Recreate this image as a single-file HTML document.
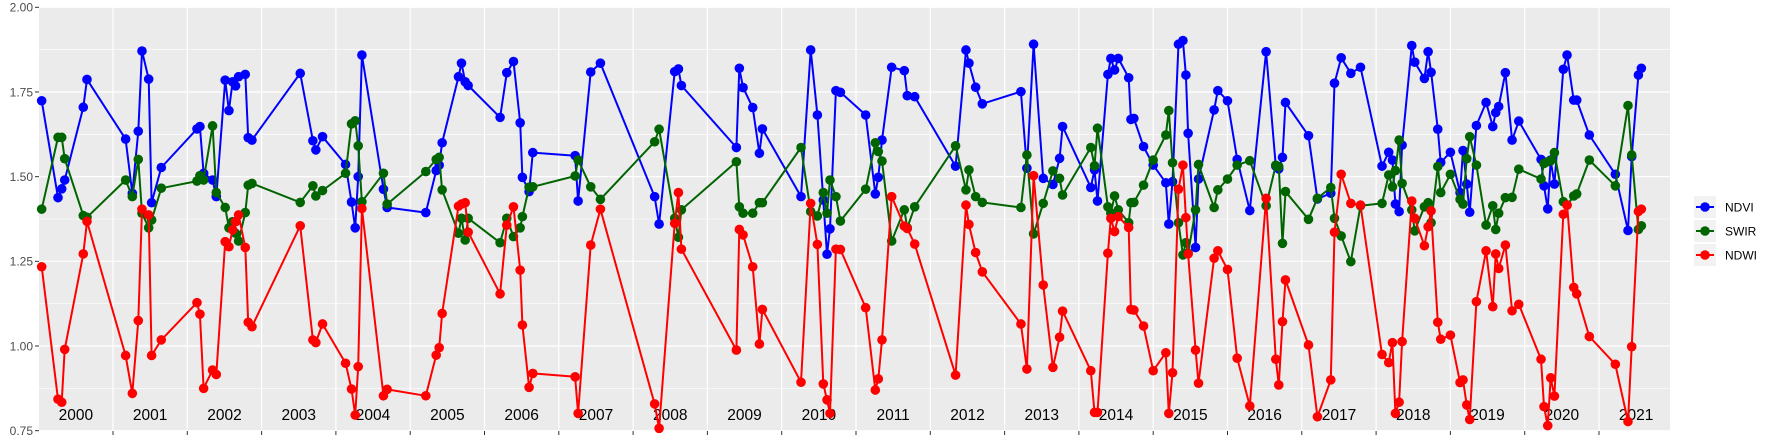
<!DOCTYPE html>
<html><head><meta charset="utf-8">
<style>
html,body{margin:0;padding:0;background:#fff;}
svg{display:block;font-family:"Liberation Sans",sans-serif;}
</style></head>
<body>
<svg id="chart" width="1773" height="442" viewBox="0 0 1773 442" xmlns="http://www.w3.org/2000/svg">
<rect x="0" y="0" width="1773" height="442" fill="#ffffff"/>
<g id="panel"></g>
<g id="yaxis"></g>
<g id="xaxis"></g>
<g id="series"></g>
<g id="legend"></g>
</svg>
<script>
const dates = [2000.04,2000.26,2000.31,2000.35,2000.60,2000.65,2001.17,2001.26,2001.34,2001.39,2001.48,2001.52,2001.65,2002.13,2002.17,2002.22,2002.34,2002.39,2002.51,2002.56,2002.61,2002.65,2002.69,2002.78,2002.82,2002.87,2003.52,2003.69,2003.73,2003.82,2004.13,2004.21,2004.26,2004.30,2004.35,2004.64,2004.69,2005.21,2005.35,2005.39,2005.43,2005.65,2005.69,2005.74,2005.78,2006.21,2006.30,2006.39,2006.48,2006.51,2006.60,2006.65,2007.22,2007.26,2007.43,2007.56,2008.29,2008.35,2008.56,2008.61,2008.65,2009.39,2009.43,2009.48,2009.61,2009.70,2009.74,2010.26,2010.39,2010.48,2010.56,2010.61,2010.65,2010.73,2010.79,2011.13,2011.26,2011.30,2011.35,2011.48,2011.65,2011.69,2011.79,2012.34,2012.48,2012.52,2012.61,2012.70,2013.22,2013.30,2013.39,2013.52,2013.65,2013.74,2013.78,2014.16,2014.21,2014.25,2014.39,2014.43,2014.48,2014.53,2014.67,2014.70,2014.74,2014.87,2015.00,2015.17,2015.21,2015.26,2015.34,2015.40,2015.44,2015.47,2015.57,2015.61,2015.82,2015.87,2016.00,2016.13,2016.30,2016.52,2016.65,2016.69,2016.74,2016.78,2017.09,2017.21,2017.39,2017.44,2017.53,2017.66,2017.79,2018.08,2018.17,2018.22,2018.26,2018.31,2018.35,2018.48,2018.52,2018.65,2018.70,2018.74,2018.83,2018.87,2019.00,2019.13,2019.17,2019.22,2019.26,2019.35,2019.48,2019.57,2019.61,2019.65,2019.74,2019.83,2019.92,2020.22,2020.26,2020.31,2020.35,2020.40,2020.52,2020.57,2020.66,2020.70,2020.87,2021.22,2021.39,2021.44,2021.53,2021.57];
const ndvi = [1.724,1.438,1.464,1.490,1.705,1.787,1.611,1.451,1.634,1.871,1.788,1.423,1.527,1.641,1.648,1.510,1.490,1.441,1.785,1.695,1.780,1.768,1.795,1.802,1.615,1.608,1.805,1.606,1.579,1.618,1.536,1.425,1.349,1.500,1.859,1.463,1.409,1.394,1.518,1.534,1.600,1.795,1.835,1.780,1.769,1.675,1.807,1.840,1.659,1.498,1.456,1.571,1.562,1.428,1.809,1.835,1.441,1.360,1.810,1.818,1.769,1.586,1.820,1.763,1.704,1.569,1.641,1.441,1.874,1.682,1.431,1.271,1.346,1.754,1.749,1.682,1.449,1.498,1.608,1.823,1.813,1.739,1.736,1.531,1.874,1.835,1.764,1.715,1.751,1.525,1.891,1.495,1.477,1.554,1.648,1.468,1.520,1.428,1.802,1.849,1.815,1.849,1.792,1.669,1.672,1.589,1.534,1.482,1.360,1.485,1.891,1.902,1.800,1.628,1.291,1.493,1.697,1.754,1.724,1.551,1.400,1.869,1.531,1.523,1.557,1.719,1.621,1.434,1.451,1.776,1.851,1.805,1.823,1.531,1.572,1.549,1.419,1.397,1.593,1.887,1.838,1.790,1.869,1.808,1.640,1.542,1.572,1.453,1.577,1.478,1.395,1.651,1.719,1.648,1.689,1.707,1.807,1.608,1.664,1.551,1.473,1.405,1.549,1.478,1.817,1.859,1.726,1.726,1.623,1.507,1.341,1.559,1.800,1.820];
const swir = [1.404,1.616,1.616,1.553,1.385,1.380,1.490,1.441,1.551,1.392,1.349,1.372,1.466,1.487,1.503,1.490,1.650,1.453,1.409,1.349,1.367,1.333,1.310,1.394,1.475,1.480,1.424,1.473,1.443,1.459,1.510,1.656,1.665,1.591,1.426,1.510,1.419,1.515,1.551,1.557,1.461,1.333,1.377,1.313,1.377,1.305,1.377,1.323,1.349,1.382,1.469,1.470,1.502,1.549,1.470,1.433,1.603,1.640,1.377,1.321,1.402,1.544,1.411,1.392,1.392,1.423,1.423,1.586,1.397,1.384,1.453,1.392,1.490,1.441,1.369,1.463,1.600,1.574,1.546,1.310,1.402,1.349,1.411,1.591,1.461,1.520,1.441,1.424,1.409,1.564,1.331,1.421,1.517,1.495,1.446,1.586,1.532,1.643,1.411,1.392,1.443,1.402,1.364,1.423,1.424,1.475,1.549,1.623,1.695,1.541,1.364,1.269,1.305,1.274,1.402,1.536,1.409,1.461,1.493,1.534,1.547,1.414,1.534,1.530,1.303,1.456,1.374,1.436,1.468,1.377,1.325,1.249,1.414,1.421,1.505,1.470,1.518,1.608,1.480,1.402,1.340,1.411,1.423,1.364,1.530,1.453,1.507,1.433,1.419,1.553,1.618,1.534,1.357,1.414,1.344,1.392,1.438,1.439,1.522,1.493,1.539,1.544,1.547,1.571,1.426,1.416,1.443,1.449,1.549,1.473,1.710,1.564,1.344,1.355];
const ndwi = [1.234,0.843,0.834,0.990,1.272,1.368,0.972,0.860,1.075,1.404,1.387,0.972,1.018,1.128,1.094,0.875,0.929,0.916,1.308,1.293,1.343,1.367,1.387,1.291,1.070,1.057,1.355,1.018,1.010,1.065,0.949,0.873,0.796,0.939,1.406,0.853,0.872,0.853,0.973,0.995,1.096,1.413,1.419,1.423,1.336,1.154,1.357,1.411,1.224,1.062,0.878,0.919,0.909,0.801,1.298,1.404,0.829,0.757,1.362,1.453,1.286,0.988,1.344,1.328,1.234,1.006,1.108,0.893,1.421,1.300,0.888,0.841,0.801,1.286,1.285,1.113,0.870,0.903,1.018,1.441,1.354,1.347,1.301,0.914,1.416,1.359,1.276,1.219,1.065,0.932,1.503,1.180,0.937,1.026,1.103,0.927,0.804,0.804,1.274,1.377,1.338,1.382,1.350,1.108,1.106,1.059,0.927,0.980,0.801,0.921,1.463,1.534,1.379,1.272,0.988,0.890,1.259,1.281,1.226,0.964,0.823,1.436,0.961,0.885,1.072,1.195,1.003,0.791,0.900,1.336,1.507,1.421,1.416,0.975,0.951,1.010,0.801,0.834,1.013,1.428,1.377,1.296,1.352,1.399,1.070,1.020,1.032,0.892,0.900,0.826,0.783,1.131,1.281,1.116,1.272,1.229,1.298,1.104,1.123,0.961,0.821,0.765,0.906,0.852,1.389,1.416,1.173,1.154,1.028,0.946,0.777,0.998,1.397,1.404];
const yTicks = [0.75,1.00,1.25,1.50,1.75,2.00];
const yTickLabels = ["0.75","1.00","1.25","1.50","1.75","2.00"];
const years = [2000,2001,2002,2003,2004,2005,2006,2007,2008,2009,2010,2011,2012,2013,2014,2015,2016,2017,2018,2019,2020,2021];
const seriesNames = ["NDVI","SWIR","NDWI"];

const NS = "http://www.w3.org/2000/svg";
const L = 39, R = 1670, T = 7, B = 431;
function xs(yr){ return 38.7 + 74.3 * (yr - 2000); }
function ys(v){ return 7.3 + (2 - v) * 338.7; }
function mk(tag, attrs, parent){ const e = document.createElementNS(NS, tag); for (const k in attrs) e.setAttribute(k, attrs[k]); parent.appendChild(e); return e; }

const panel = document.getElementById('panel');
const bg = mk('rect', {x:L, y:T, width:R-L, height:B-T, fill:'#ebebeb'}, panel);


// minor horizontal grid
for (let i = 0; i < yTicks.length - 1; i++) {
  const v = (yTicks[i] + yTicks[i+1]) / 2;
  const g = mk('line', {x1:L, x2:R, y1:ys(v), y2:ys(v), stroke:'#ffffff', 'stroke-width':0.6}, panel);
  
  
}
yTicks.forEach(v => {
  const g = mk('line', {x1:L, x2:R, y1:ys(v), y2:ys(v), stroke:'#ffffff', 'stroke-width':1.2}, panel);
  
  
});
years.forEach(yr => {
  if (yr === 2000) return;
  const g = mk('line', {x1:xs(yr), x2:xs(yr), y1:T, y2:B, stroke:'#ffffff', 'stroke-width':1.2}, panel);
  
  
});

const yaxis = document.getElementById('yaxis');
yTicks.forEach((v, i) => {
  const t = mk('line', {x1:L-4, x2:L, y1:ys(v), y2:ys(v), stroke:'#333333', 'stroke-width':1}, yaxis);
  
  
  const tx = mk('text', {x:L-6, y:ys(v)+4.3, 'text-anchor':'end', 'font-size':12, fill:'#4d4d4d'}, yaxis);
  tx.textContent = yTickLabels[i];
  
  
});

const xaxis = document.getElementById('xaxis');
years.forEach(yr => {
  if (yr > 2000) {
    const t = mk('line', {x1:xs(yr), x2:xs(yr), y1:B, y2:B+4, stroke:'#333333', 'stroke-width':1}, xaxis);
    
    
  }
  const tx = mk('text', {x:xs(yr + 0.5), y:420, 'text-anchor':'middle', 'font-size':15.5, fill:'#000000'}, xaxis);
  tx.textContent = String(yr);
  
  
});

const colors = ['#0000ff', '#006400', '#ff0000'];
const seriesVals = [ndvi, swir, ndwi];
const seriesLayer = document.getElementById('series');
seriesVals.forEach((vals, si) => {
  const g = mk('g', {}, seriesLayer);
  
  
  const pts = vals.map((v, i) => xs(dates[i]).toFixed(1) + ',' + ys(v).toFixed(1)).join(' ');
  const line = mk('polyline', {points:pts, fill:'none', stroke:colors[si], 'stroke-width':2, 'stroke-linejoin':'round'}, g);
  
  
  vals.forEach((v, i) => {
    const c = mk('circle', {cx:xs(dates[i]), cy:ys(v), r:4.8, fill:colors[si]}, g);
    
    
  });
});

const legend = document.getElementById('legend');
const rowsY = [207, 231, 255];
seriesNames.forEach((nm, i) => {
  const g = mk('g', {}, legend);
  
  
  mk('rect', {x:1694, y:rowsY[i]-11, width:22, height:22, fill:'#f2f2f2'}, g);
  mk('line', {x1:1696, x2:1714, y1:rowsY[i], y2:rowsY[i], stroke:colors[i], 'stroke-width':2}, g);
  mk('circle', {cx:1705, cy:rowsY[i], r:4.8, fill:colors[i]}, g);
  const tx = mk('text', {x:1725, y:rowsY[i]+4.3, 'font-size':12, fill:'#000000'}, g);
  tx.textContent = nm;
});
</script>
</body></html>
